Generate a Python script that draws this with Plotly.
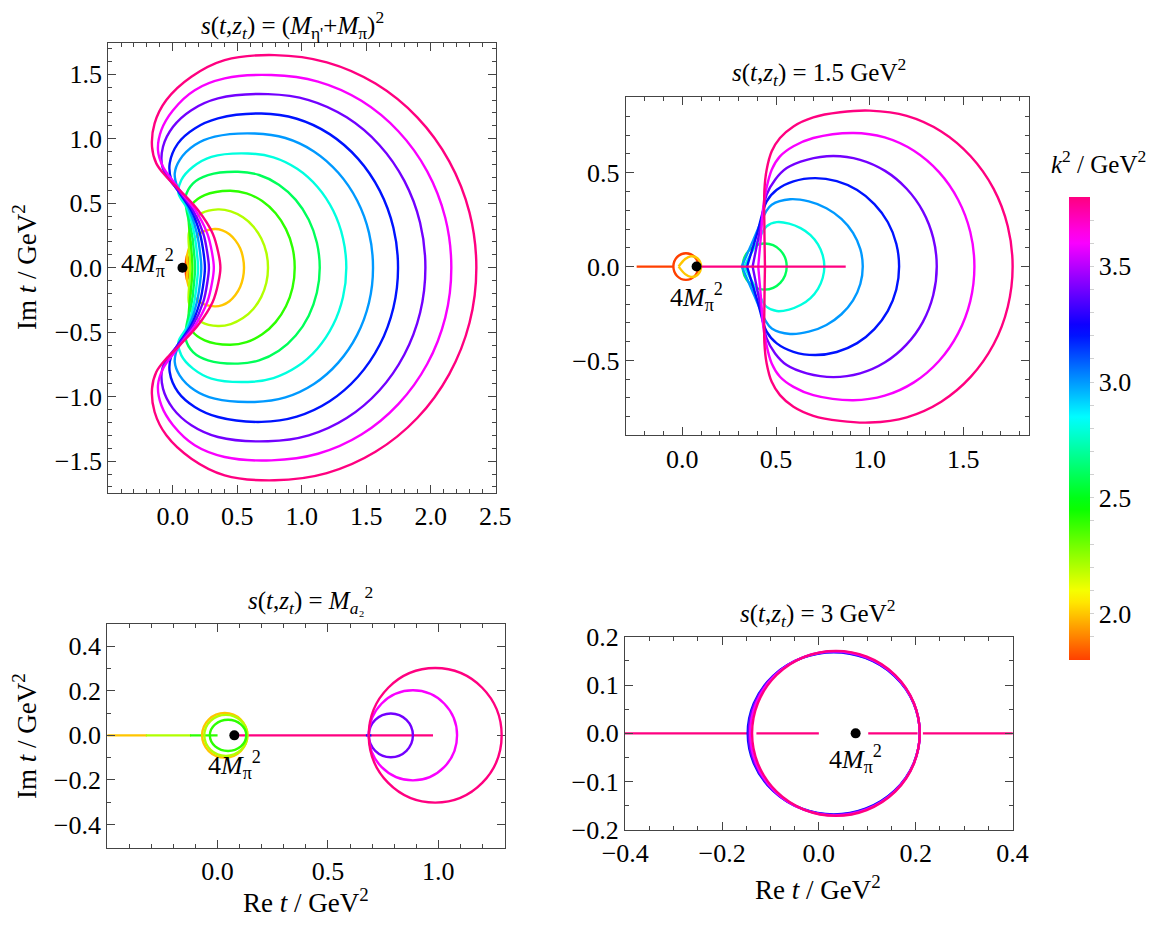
import colorsys
import plotly.graph_objects as go

FONT = "Liberation Serif"
OFF = 8                      # browser body margin
FIG_W, FIG_H = 1150, 913

# ---------------- colour scale (k^2 / GeV^2) ----------------
K2_MIN, K2_MAX = 1.8, 3.8
HUE_MIN, HUE_MAX = 15.0, 330.0
CB_TICKS = [1.9, 2.0, 2.1, 2.2, 2.3, 2.4, 2.5, 2.6, 2.7, 2.8, 2.9, 3.0, 3.1, 3.2, 3.3, 3.4, 3.5, 3.6, 3.7]
CB_LABELLED = [2.0, 2.5, 3.0, 3.5]

DOT_X = 0.076   # 4 M_pi^2

# ---------------- panel 1 : s = (M_eta' + M_pi)^2 ----------------
# upper halves (Im t >= 0), from the right end round to the inner left end
P1_K2 = [1.8, 2.0, 2.2, 2.4, 2.6, 2.8, 3.0, 3.2, 3.4, 3.6, 3.8]
P1_X = [
    [0.128, 0.122, 0.112, 0.104, 0.101],
    [0.553, 0.545, 0.523, 0.486, 0.440, 0.385, 0.326, 0.209, 0.145, 0.110, 0.115, 0.120],
    [0.739, 0.726, 0.687, 0.625, 0.545, 0.451, 0.351, 0.222, 0.158, 0.125, 0.130, 0.135],
    [0.946, 0.929, 0.878, 0.798, 0.694, 0.573, 0.442, 0.248, 0.150, 0.125, 0.132, 0.147, 0.153],
    [1.140, 1.118, 1.055, 0.954, 0.823, 0.670, 0.506, 0.274, 0.158, 0.100, 0.107, 0.148, 0.166, 0.174],
    [1.346, 1.320, 1.244, 1.123, 0.965, 0.781, 0.584, 0.300, 0.158, 0.067, 0.045, 0.117, 0.167, 0.188, 0.197],
    [1.553, 1.522, 1.430, 1.284, 1.095, 0.874, 0.636, 0.326, 0.171, 0.054, 0.016, 0.035, 0.129, 0.188, 0.213, 0.222],
    [1.747, 1.711, 1.605, 1.436, 1.217, 0.962, 0.687, 0.351, 0.171, 0.041, -0.023, -0.010, 0.045, 0.141, 0.211, 0.240, 0.250],
    [1.959, 1.918, 1.796, 1.602, 1.349, 1.055, 0.739, 0.351, 0.145, 0.003, -0.075, -0.080, -0.023, 0.050, 0.155, 0.237, 0.269, 0.281],
    [2.160, 2.113, 1.973, 1.751, 1.463, 1.126, 0.765, 0.403, 0.171, 0.003, -0.088, -0.114, -0.075, 0.016, 0.085, 0.173, 0.268, 0.306, 0.319],
    [2.354, 2.301, 2.144, 1.896, 1.572, 1.195, 0.790, 0.403, 0.145, -0.049, -0.140, -0.160, -0.127, -0.049, 0.054, 0.196, 0.310, 0.355, 0.370],
]
P1_Y = [
    [0, 0.060, 0.095, 0.060, 0],
    [0, 0.078, 0.150, 0.212, 0.260, 0.290, 0.300, 0.266, 0.189, 0.090, 0.030, 0],
    [0, 0.117, 0.226, 0.320, 0.391, 0.437, 0.452, 0.421, 0.357, 0.266, 0.111, 0],
    [0, 0.155, 0.299, 0.422, 0.517, 0.577, 0.597, 0.563, 0.490, 0.400, 0.266, 0.111, 0],
    [0, 0.193, 0.372, 0.526, 0.644, 0.719, 0.744, 0.718, 0.654, 0.550, 0.450, 0.266, 0.111, 0],
    [0, 0.229, 0.443, 0.626, 0.767, 0.856, 0.886, 0.860, 0.783, 0.680, 0.576, 0.450, 0.266, 0.111, 0],
    [0, 0.270, 0.521, 0.736, 0.902, 1.006, 1.041, 1.016, 0.951, 0.835, 0.731, 0.630, 0.450, 0.266, 0.111, 0],
    [0, 0.310, 0.598, 0.846, 1.036, 1.155, 1.196, 1.158, 1.080, 0.964, 0.809, 0.680, 0.590, 0.450, 0.266, 0.111, 0],
    [0, 0.349, 0.673, 0.952, 1.166, 1.300, 1.346, 1.313, 1.222, 1.093, 0.938, 0.783, 0.680, 0.590, 0.450, 0.266, 0.111, 0],
    [0, 0.387, 0.747, 1.056, 1.294, 1.443, 1.494, 1.468, 1.377, 1.222, 1.067, 0.912, 0.783, 0.654, 0.560, 0.450, 0.266, 0.111, 0],
    [0, 0.427, 0.825, 1.166, 1.428, 1.593, 1.649, 1.610, 1.481, 1.300, 1.119, 0.938, 0.809, 0.705, 0.602, 0.447, 0.266, 0.111, 0],
]

# ---------------- panel 2 : s = 1.5 GeV^2 ----------------
# upper halves from the right end to the pointed left apex
P2_K2 = [2.8, 3.0, 3.2, 3.4, 3.6, 3.8]
P2_X = [
    [0.758, 0.749, 0.724, 0.684, 0.631, 0.570, 0.504, 0.450, 0.400, 0.330],
    [0.963, 0.950, 0.911, 0.849, 0.769, 0.675, 0.575, 0.477, 0.445, 0.380, 0.317],
    [1.157, 1.142, 1.097, 1.025, 0.933, 0.824, 0.708, 0.593, 0.504, 0.450, 0.400, 0.345],
    [1.358, 1.339, 1.284, 1.196, 1.082, 0.949, 0.806, 0.664, 0.557, 0.495, 0.450, 0.415, 0.375],
    [1.559, 1.537, 1.472, 1.370, 1.236, 1.080, 0.913, 0.699, 0.593, 0.521, 0.477, 0.447, 0.432, 0.420, 0.405],
    [1.763, 1.737, 1.661, 1.539, 1.382, 1.198, 1.000, 0.842, 0.699, 0.593, 0.521, 0.477, 0.450, 0.438, 0.438, 0.441],
]
P2_Y = [
    [0, 0.061, 0.1185, 0.168, 0.205, 0.229, 0.237, 0.215, 0.130, 0],
    [0, 0.093, 0.180, 0.254, 0.311, 0.347, 0.359, 0.330, 0.290, 0.145, 0],
    [0, 0.122, 0.236, 0.333, 0.408, 0.455, 0.4715, 0.454, 0.409, 0.347, 0.180, 0],
    [0, 0.153, 0.2945, 0.416, 0.510, 0.569, 0.589, 0.569, 0.525, 0.463, 0.383, 0.200, 0],
    [0, 0.184, 0.356, 0.503, 0.617, 0.688, 0.712, 0.685, 0.641, 0.587, 0.516, 0.409, 0.320, 0.170, 0],
    [0, 0.215, 0.4155, 0.588, 0.720, 0.803, 0.831, 0.822, 0.795, 0.747, 0.685, 0.614, 0.516, 0.409, 0.196, 0],
]
P2_EYE_K2 = 2.0
P2_EYE_X = [0.100, 0.080, 0.045, 0.015, -0.020]
P2_EYE_Y = [0, 0.045, 0.055, 0.040, 0]
P2_CIRC_K2 = [1.8, 2.6]
P2_CIRC_X0 = [-0.048, 0.322]
P2_CIRC_X1 = [0.086, 0.557]
P2_CIRC_RY = [0.071, 0.123]
P2_LINE_K2 = [1.8, 3.8]
P2_LINE_X0 = [-0.244, 0.103]
P2_LINE_X1 = [-0.048, 0.872]

# ---------------- panel 3 : s = M_a2^2 ----------------
P3_LINE_K2 = [2.0, 2.2, 2.4, 3.8, 3.2]
P3_LINE_X0 = [-0.50, -0.325, -0.125, 0.098, 0.672]
P3_LINE_X1 = [-0.32, -0.120, 0.000, 0.976, 0.697]
P3_CIRC_K2 = [2.0, 2.2, 2.4, 3.4, 3.6, 3.8]
P3_CIRC_X0 = [-0.070, -0.060, -0.035, 0.685, 0.685, 0.685]
P3_CIRC_X1 = [0.135, 0.135, 0.130, 0.885, 1.085, 1.287]
P3_CIRC_RY = [0.100, 0.092, 0.070, 0.098, 0.202, 0.302]

# ---------------- panel 4 : s = 3 GeV^2 ----------------
P4_CIRC_K2 = [3.2, 3.4, 3.6, 3.8]
P4_CIRC_X0 = [-0.147, -0.145, -0.142, -0.138]
P4_CIRC_X1 = [0.2085, 0.2085, 0.2085, 0.2085]
P4_CIRC_RY = [0.168, 0.169, 0.170, 0.171]
P4_LINE_K2 = [3.8, 3.8, 3.8, 3.8]
P4_LINE_X0 = [-0.41, -0.129, 0.102, 0.215]
P4_LINE_X1 = [-0.148, 0.000, 0.204, 0.41]


def k2_color(k2):
    h = HUE_MIN + (k2 - K2_MIN) / (K2_MAX - K2_MIN) * (HUE_MAX - HUE_MIN)
    r, g, b = colorsys.hsv_to_rgb((h % 360) / 360.0, 1, 1)
    return "rgb(%d,%d,%d)" % (round(r * 255), round(g * 255), round(b * 255))


COLORSCALE = [[i / 40, k2_color(K2_MIN + i / 40 * (K2_MAX - K2_MIN))] for i in range(41)]


def px_x(px):
    return (px - OFF) / FIG_W


def px_y(py):
    return 1 - (py - OFF) / FIG_H


LW = 2.4
fig = go.Figure()


def add_line(xs, ys, k2, ax):
    fig.add_trace(go.Scatter(
        x=xs, y=ys, mode="lines",
        line=dict(color=k2_color(k2), width=LW, shape="spline", smoothing=1, simplify=False),
        xaxis="x" + ax, yaxis="y" + ax, showlegend=False, hoverinfo="skip"))


def closed_curve(ux, uy):
    xs = list(ux) + list(ux[::-1][1:])
    ys = list(uy) + [-v for v in uy[::-1][1:]]
    return xs, ys


def apex_curve(ux, uy):
    xs = list(ux[::-1]) + list(ux[1:])
    ys = [-v for v in uy[::-1]] + list(uy[1:])
    ys[0] -= 1e-4   # keep the apex pointed (open path)
    ys[-1] += 1e-4
    return xs, ys


shapes = []


def add_circle(k2, x0, x1, ry, ax, layer="above"):
    shapes.append(dict(type="circle", xref="x" + ax, yref="y" + ax,
                       x0=x0, x1=x1, y0=-ry, y1=ry, layer=layer,
                       line=dict(color=k2_color(k2), width=LW)))


# panel 1
for k2, ux, uy in zip(P1_K2, P1_X, P1_Y):
    xs, ys = closed_curve(ux, uy)
    add_line(xs, ys, k2, "")

# panel 2
for k2, x0, x1 in zip(P2_LINE_K2[:1], P2_LINE_X0[:1], P2_LINE_X1[:1]):
    add_line([x0, x1], [0, 0], k2, "2")
for k2, x0, x1, ry in zip(P2_CIRC_K2, P2_CIRC_X0, P2_CIRC_X1, P2_CIRC_RY):
    add_circle(k2, x0, x1, ry, "2", layer="below")
xs, ys = apex_curve(P2_EYE_X, P2_EYE_Y)
add_line(xs, ys, P2_EYE_K2, "2")
for k2, ux, uy in zip(P2_K2, P2_X, P2_Y):
    xs, ys = apex_curve(ux, uy)
    add_line(xs, ys, k2, "2")
for k2, x0, x1 in zip(P2_LINE_K2[1:], P2_LINE_X0[1:], P2_LINE_X1[1:]):
    add_line([x0, x1], [0, 0], k2, "2")

# panel 3
for k2, x0, x1 in zip(P3_LINE_K2, P3_LINE_X0, P3_LINE_X1):
    add_line([x0, x1], [0, 0], k2, "3")
for k2, x0, x1, ry in zip(P3_CIRC_K2, P3_CIRC_X0, P3_CIRC_X1, P3_CIRC_RY):
    add_circle(k2, x0, x1, ry, "3")

# panel 4
for k2, x0, x1 in zip(P4_LINE_K2, P4_LINE_X0, P4_LINE_X1):
    add_line([x0, x1], [0, 0], k2, "4")
for k2, x0, x1, ry in zip(P4_CIRC_K2, P4_CIRC_X0, P4_CIRC_X1, P4_CIRC_RY):
    add_circle(k2, x0, x1, ry, "4")

# 4 M_pi^2 dots
for ax in ["", "2", "3", "4"]:
    fig.add_trace(go.Scatter(x=[DOT_X], y=[0], mode="markers",
                             marker=dict(size=10, color="black"),
                             xaxis="x" + ax, yaxis="y" + ax,
                             showlegend=False, hoverinfo="skip"))

# colour bar carrier
fig.add_trace(go.Scatter(
    x=[DOT_X], y=[0], mode="markers", xaxis="x", yaxis="y",
    marker=dict(size=1, opacity=0, color=[K2_MIN], cmin=K2_MIN, cmax=K2_MAX,
                colorscale=COLORSCALE, showscale=True,
                colorbar=dict(
                    x=px_x(1069.3), xanchor="left",
                    y=px_y((196.7 + 660) / 2), yanchor="middle",
                    len=(660 - 196.7) / FIG_H, lenmode="fraction",
                    thickness=21, thicknessmode="pixels",
                    outlinewidth=0, xpad=0, ypad=0,
                    tickmode="array", tickvals=CB_TICKS,
                    ticktext=[("%.1f" % v) if any(abs(v - t) < 1e-9 for t in CB_LABELLED) else ""
                              for v in CB_TICKS],
                    ticks="outside", ticklen=4, tickcolor="#d0d0d0",
                    tickfont=dict(family=FONT, size=26, color="black"))),
    showlegend=False, hoverinfo="skip"))

TICKFONT = dict(family=FONT, size=26, color="black")


def axis(domain, rng, dtick, minor, anchor):
    return dict(domain=domain, range=rng, anchor=anchor,
                tickmode="linear", tick0=0, dtick=dtick, tickformat=".1f",
                ticks="inside", ticklen=8, tickwidth=1, tickcolor="#444",
                minor=dict(tickmode="linear", tick0=0, dtick=minor, ticks="inside",
                           ticklen=4, tickwidth=1, tickcolor="#444", showgrid=False),
                showline=True, linecolor="#444", linewidth=1.2, mirror="allticks",
                showgrid=False, zeroline=False, tickfont=TICKFONT, fixedrange=True,
                automargin=False)


fig.update_layout(
    width=FIG_W, height=FIG_H,
    margin=dict(l=0, r=0, t=0, b=0, autoexpand=False),
    paper_bgcolor="white", plot_bgcolor="white",
    xaxis=axis([px_x(108.3), px_x(495.7)], [-0.499, 2.504], 0.5, 0.1, "y"),
    yaxis=axis([px_y(492.7), px_y(42.7)], [-1.745, 1.745], 0.5, 0.1, "x"),
    xaxis2=axis([px_x(625.7), px_x(1029.3)], [-0.3025, 1.852], 0.5, 0.1, "y2"),
    yaxis2=axis([px_y(435.3), px_y(97.3)], [-0.899, 0.902], 0.5, 0.1, "x2"),
    xaxis3=axis([px_x(107.3), px_x(505.3)], [-0.4995, 1.3035], 0.5, 0.1, "y3"),
    yaxis3=axis([px_y(847.7), px_y(624)], [-0.504, 0.4995], 0.2, 0.1, "x3"),
    xaxis4=axis([px_x(625), px_x(1012.7)], [-0.4005, 0.4005], 0.2, 0.05, "y4"),
    yaxis4=axis([px_y(830), px_y(636.7)], [-0.2003, 0.2003], 0.1, 0.05, "x4"),
    shapes=shapes,
)

S = "<i>s</i>(<i>t</i>,<i>z</i><sub><i>t</i></sub>) = "
TITLES = [
    (S + "(<i>M</i><sub>η'</sub>+<i>M</i><sub>π</sub>)<sup>2</sup>", 292, 25),
    (S + "1.5 GeV<sup>2</sup>", 819, 72),
    (S + "<i>M</i><sub><i>a</i>₂</sub><sup>2</sup>", 310, 600),
    (S + "3 GeV<sup>2</sup>", 818, 613),
]
ann = []
for text, cx, cy in TITLES:
    ann.append(dict(text=text, x=px_x(cx), y=px_y(cy), xref="paper", yref="paper",
                    xanchor="center", yanchor="middle", showarrow=False,
                    font=dict(family=FONT, size=25, color="black")))

AX_TITLE_FONT = dict(family=FONT, size=27, color="black")
for cy in [267, 736]:
    ann.append(dict(text="Im <i>t</i> / GeV<sup>2</sup>", x=px_x(25), y=px_y(cy),
                    xref="paper", yref="paper", textangle=-90, showarrow=False,
                    xanchor="center", yanchor="middle", font=AX_TITLE_FONT))
for cx, cy in [(306, 901), (818, 888)]:
    ann.append(dict(text="Re <i>t</i> / GeV<sup>2</sup>", x=px_x(cx), y=px_y(cy),
                    xref="paper", yref="paper", showarrow=False,
                    xanchor="center", yanchor="middle", font=AX_TITLE_FONT))

ann.append(dict(text="<i>k</i><sup>2</sup> / GeV<sup>2</sup>", x=px_x(1098), y=px_y(162),
                xref="paper", yref="paper", showarrow=False,
                xanchor="center", yanchor="middle", font=dict(family=FONT, size=25, color="black")))

LBL = "4<i>M</i><sub>π</sub><sup>2</sup>"
LBL_FONT = dict(family=FONT, size=26, color="black")
ann.append(dict(text=LBL, x=DOT_X, y=0, xref="x", yref="y", showarrow=False,
                xanchor="right", yanchor="middle", xshift=-6, yshift=5, font=LBL_FONT))
for ax, ysh in [("2", -10), ("3", -10), ("4", -6)]:
    ann.append(dict(text=LBL, x=DOT_X, y=0, xref="x" + ax, yref="y" + ax, showarrow=False,
                    xanchor="center", yanchor="top", yshift=ysh, font=LBL_FONT))

fig.update_layout(annotations=ann)

fig.write_html("out.html")
